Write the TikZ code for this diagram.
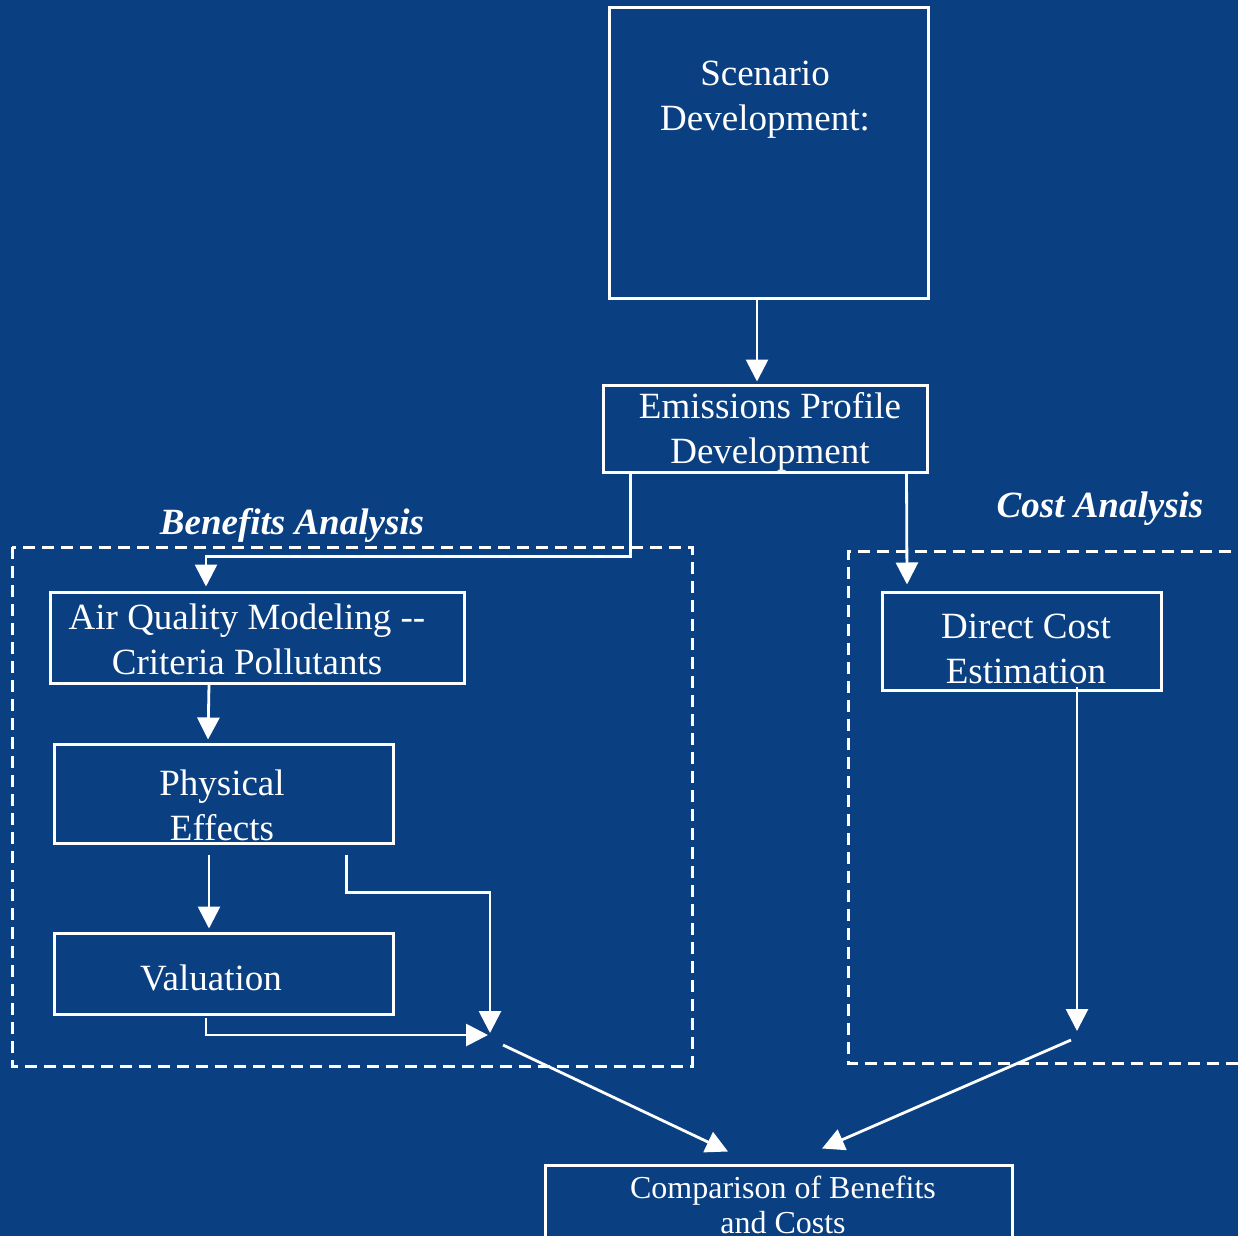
\documentclass[tikz,border=0pt]{standalone}
\usepackage{fontspec}
\setmainfont{Liberation Serif}
\usetikzlibrary{arrows.meta,calc}
\definecolor{bg}{HTML}{0A4082}
\tikzset{
  box/.style={draw=white, line width=3pt, inner sep=0pt},
  txt/.style={text=white, align=center, inner sep=0pt, font=\fontsize{37}{45}\selectfont},
  stxt/.style={text=white, align=center, inner sep=0pt, font=\fontsize{32}{35}\selectfont},
  ttl/.style={text=white, inner sep=0pt, font=\fontsize{37}{45}\selectfont\bfseries\itshape},
  group/.style={draw=white, line width=3pt, dash pattern=on 12pt off 7pt},
  conn/.style={draw=white, line width=2.8pt},
  arr/.style={conn, -{Triangle[length=22pt,width=22pt]}},
}
\begin{document}
\begin{tikzpicture}[x=1pt,y=-1pt]
\fill[bg] (0,0) rectangle (1238,1236);
\useasboundingbox (0,0) rectangle (1238,1236);

% group frames
\draw[group] (12,547) rectangle (692,1066);
\draw[group] (1250,551) -- (848,551) -- (848,1063) -- (1250,1063);
\node[ttl] (bentitle) at (292,525) {Benefits Analysis};
\node[ttl] (costtitle) at (1100,509) {Cost Analysis};

% boxes
\node[box, minimum width=319pt, minimum height=290pt] (scen) at (768.5,153) {};
\node[txt] (scent) at (765,100) {Scenario\\Development:};
\node[box, minimum width=324pt, minimum height=87pt] (emis) at (765,428.5) {};
\node[txt] (emist) at (770,432) {Emissions Profile\\Development};
\node[box, minimum width=414pt, minimum height=91pt] (aq) at (257,637.5) {};
\node[txt] (aqt) at (247,639) {Air Quality Modeling {-}{-}\\Criteria Pollutants};
\node[box, minimum width=339pt, minimum height=99pt] (pe) at (223.5,793.5) {};
\node[txt] (pet) at (222,805.5) {Physical\\Effects};
\node[box, minimum width=339pt, minimum height=81pt] (val) at (223.5,973.5) {};
\node[txt] (valt) at (211,978) {Valuation};
\node[box, minimum width=279pt, minimum height=98pt] (dc) at (1021.5,641) {};
\node[txt] (dct) at (1026,649) {Direct Cost\\Estimation};
\node[box, minimum width=467pt, minimum height=72pt] (comp) at (778.5,1201) {};
\node[stxt] (compt) at (783,1205) {Comparison of Benefits\\and Costs};

% merge points
\coordinate (bmerge) at (490,1035);
\coordinate (cmerge) at (1077,1031);

% connectors
\draw[arr] ([xshift=-11.5pt]scen.south) -- ([xshift=-8pt,yshift=2pt]emis.north);
\draw[arr] ([xshift=29pt]emis.south west) -- ++(0,83) -| ([xshift=-51pt,yshift=4pt]aq.north);
\draw[arr] ([xshift=-22pt]emis.south east) -- ([xshift=-114.5pt,yshift=6pt]dc.north);
\draw[arr] ([xshift=-48pt]aq.south) -- ([xshift=-15.5pt,yshift=3pt]pe.north);
\draw[arr] ([xshift=-14.5pt,yshift=-10pt]pe.south) -- ([xshift=-14.5pt,yshift=3pt]val.north);
\draw[arr] ([xshift=-48pt,yshift=-10pt]pe.south east) -- ++(0,38) -| ([yshift=2pt]bmerge);
\draw[arr] ([xshift=-17.5pt,yshift=-2pt]val.south) |- ([xshift=-2pt]bmerge);
\draw[arr] ([xshift=55.5pt,yshift=5pt]dc.south) -- (cmerge);
\draw[arr] ([shift={(13,10)}]bmerge) -- ([shift={(-50.5,-12)}]comp.north);
\draw[arr] ([shift={(-6,9)}]cmerge) -- ([shift={(43.5,-15)}]comp.north);
\end{tikzpicture}
\end{document}
